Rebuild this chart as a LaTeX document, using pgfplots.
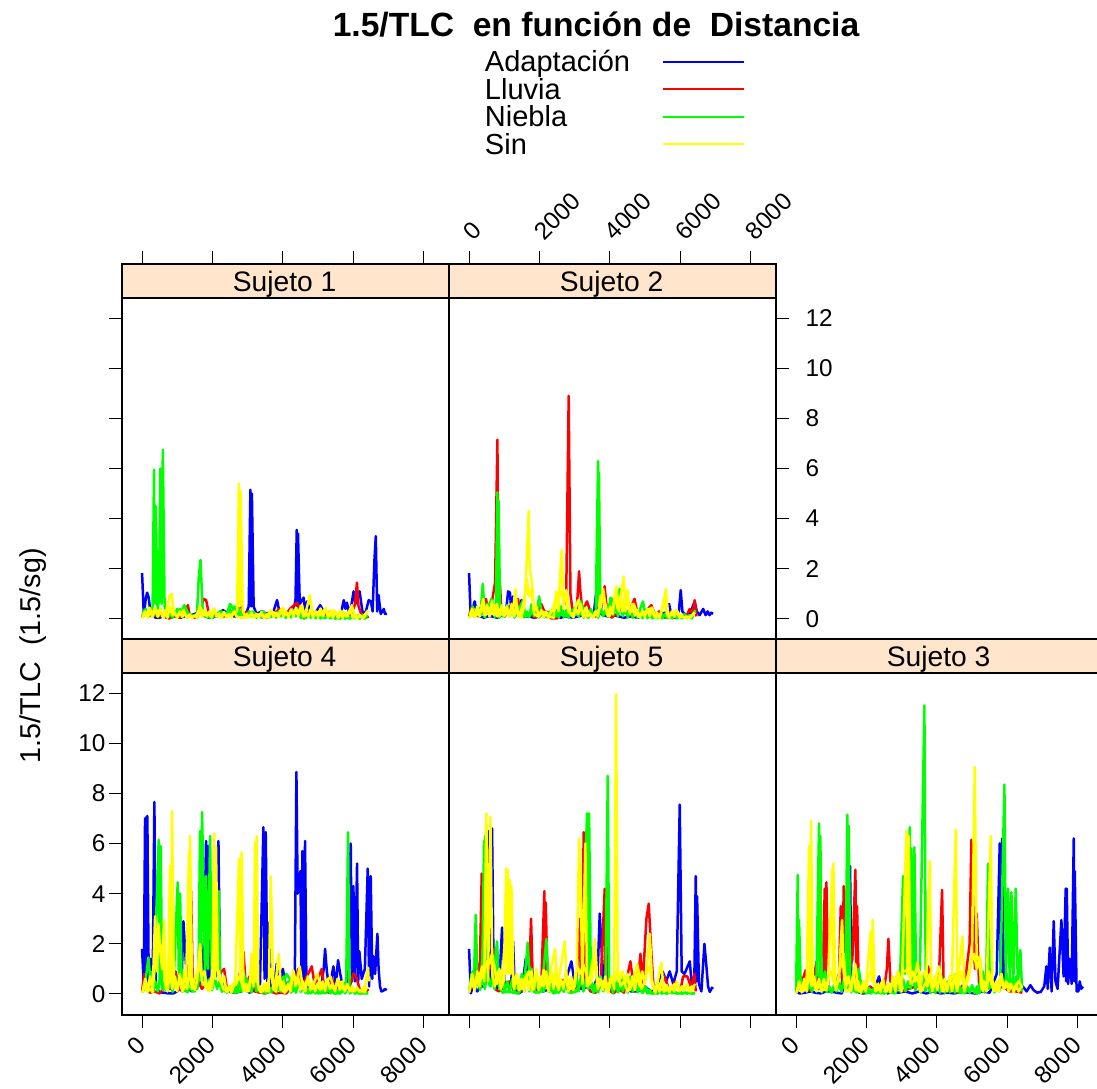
\documentclass[border=0pt]{standalone}
\usepackage{pgfplots}
\pgfplotsset{compat=1.18}
\usepackage{fontspec}
\setmainfont{Liberation Sans}
\definecolor{stripc}{HTML}{FFE5CC}
\definecolor{pureblue}{rgb}{0,0,1}
\definecolor{purered}{rgb}{1,0,0}
\definecolor{puregreen}{rgb}{0,1,0}
\definecolor{pureyellow}{rgb}{1,1,0}
\pgfplotsset{
  panel/.style={
    scale only axis, width=327pt, xmin=-570, xmax=8720,
    ymax=14.155,
    axis line style={line width=1.3pt}, clip=true,
    tick align=outside, major tick length=13pt,
    tick style={line width=1pt, black},
    xtick={0,2000,4000,6000,8000}, ytick={0,2,4,6,8,10,12},
    /pgf/number format/1000 sep={}, /pgf/number format/assume math mode=true,
    tick label style={font=\fontsize{24.3}{26}\selectfont},
    every axis plot/.append style={line width=2.5pt, line join=round, no markers},
    legend image code/.code={\draw[##1,line width=1.6pt] (0pt,3.5pt) -- (81pt,3.5pt);},
  },
  ser1/.style={color=pureblue}, ser2/.style={color=purered}, ser3/.style={color=puregreen}, ser4/.style={color=pureyellow},
  toplab/.style={xticklabel style={rotate=45,anchor=south west,inner sep=2pt,xshift=8pt,yshift=1pt}},
  botlab/.style={xticklabel style={rotate=45,anchor=north east,inner sep=2pt,xshift=-8pt,yshift=2pt}},
}
\newcommand{\strip}[1]{%
  \draw[fill=stripc,line width=1.3pt] (axis cs:-570,12.8) rectangle (axis cs:8720,14.155);
  \node[font=\fontsize{28.2}{30}\selectfont,inner sep=0pt] at (axis cs:4050,13.36) {#1};}
\begin{document}
\begin{tikzpicture}
\useasboundingbox (0pt,0pt) rectangle (1097pt,1088pt);
\clip (0pt,0pt) rectangle (1097pt,1088pt);
\node[font=\bfseries\fontsize{33.6}{36}\selectfont,inner sep=0pt] at (596pt,1063pt) {1.5/TLC\ \ en función de\ \ Distancia};
\node[font=\fontsize{28.7}{30}\selectfont,rotate=90,inner sep=0pt] at (33pt,432pt) {1.5/TLC\ \ (1.5/sg)};
% ---------- Sujeto 1
\begin{axis}[panel, at={(122pt,449pt)}, anchor=south west, height=375pt, ymin=-0.8,
  xtick pos=top, ytick pos=left, xticklabels={}, yticklabels={},
  legend plot pos=right, legend cell align=left,
  legend style={draw=none,fill=none,at={(1.11,1.5667)},anchor=north west,inner sep=0pt,outer sep=0pt,
    column sep=32pt,row sep=0pt,
    nodes={inner sep=0pt,text height=20.5pt,text depth=7pt,font=\fontsize{29}{30}\selectfont}},
]
\addplot[ser1] coordinates {(0,1.83)(50,.15)(100,.75)(142,1.05)(190,.85)(240,.2)(300,.1)(400,.05)(500,.05)(600,.1)(700,.05)(800,.05)(900,.1)(1000,.1)(1100,.05)(1200,.1)(1300,.1)(1400,.15)(1500,.2)(1600,.25)(1700,.2)(1800,.1)(1900,.05)(2000,.05)(2100,.15)(2300,.35)(2450,.2)(2600,.1)(2800,.1)(2950,.2)(3030,.5)(3078,5.15)(3100,.5)(3120,5.0)(3170,.5)(3250,.2)(3400,.3)(3550,.2)(3700,.15)(3835,.75)(3900,.3)(4000,.15)(4100,.2)(4200,.3)(4300,.25)(4360,.8)(4394,3.55)(4412,.5)(4430,3.4)(4480,.6)(4590,.85)(4640,.3)(4690,.7)(4800,.2)(4950,.3)(5060,.55)(5160,.3)(5300,.2)(5500,.15)(5650,.2)(5730,.75)(5780,.4)(5820,.65)(5900,.15)(6010,1.1)(6060,.6)(6180,1.1)(6260,.3)(6340,.2)(6440,.75)(6500,.7)(6550,.3)(6600,2.3)(6640,3.3)(6680,.3)(6720,.95)(6780,.2)(6870,.4)(6900,.2)(6960,.2)};
\addlegendentry{Adaptación}
\addplot[ser2] coordinates {(0,.05)(80,.35)(180,.1)(300,.2)(450,.1)(600,.15)(760,.02)(900,.1)(1050,.05)(1200,.15)(1300,.55)(1360,.1)(1500,.05)(1650,.3)(1750,.8)(1820,.75)(1900,.2)(2050,.1)(2200,.15)(2350,.1)(2500,.15)(2650,.2)(2800,.6)(2870,.2)(3000,.3)(3150,.15)(3300,.1)(3450,.05)(3600,.25)(3750,.2)(3900,.4)(4050,.1)(4200,.4)(4400,.65)(4480,.4)(4600,.02)(4750,.3)(4900,.15)(5050,.2)(5200,.1)(5350,.3)(5500,.1)(5650,.05)(5800,.15)(5950,.2)(6050,.6)(6105,1.45)(6150,.5)(6250,.1)(6350,.05)(6440,.1)};
\addlegendentry{Lluvia}
\addplot[ser3] coordinates {(0,.1)(60,.35)(150,.2)(250,.3)(300,.5)(340,5.95)(365,.6)(390,4.5)(440,.4)(480,.7)(520,6.0)(555,.6)(590,6.75)(640,.5)(720,.2)(850,.15)(950,.2)(1000,.4)(1080,.15)(1200,.55)(1320,.2)(1450,.1)(1560,.2)(1610,1.65)(1660,2.35)(1720,.4)(1800,.1)(1950,.05)(2100,.2)(2250,.3)(2400,.15)(2500,.6)(2600,.4)(2700,.5)(2850,.1)(3000,.15)(3150,.3)(3300,.1)(3450,.25)(3600,.05)(3750,.15)(3900,.3)(4050,.25)(4200,.1)(4400,.4)(4550,.05)(4700,.1)(4850,.2)(5000,.15)(5150,.05)(5300,.1)(5450,.05)(5600,.02)(5750,.1)(5900,.02)(6050,.1)(6200,.15)(6300,.02)(6400,.15)};
\addlegendentry{Niebla}
\addplot[ser3,forget plot] coordinates {(30,.1)(100,.4)(170,.08)(240,.35)(310,.1)(380,.3)(450,.08)(520,.4)(590,.1)(660,.3)(730,.06)(800,.22)(870,.05)(940,.3)(1010,.08)(1080,.4)(1150,.1)(1220,.3)(1290,.05)(1360,.2)(1430,.08)(1500,.15)(1570,.05)(1640,.35)(1710,.1)(1780,.3)(1850,.06)(1920,.2)(1990,.04)(2060,.25)(2130,.08)(2200,.3)(2270,.05)(2340,.2)(2410,.1)(2480,.45)(2550,.15)(2620,.5)(2690,.1)(2760,.3)(2830,.05)(2900,.2)(2970,.08)(3040,.3)(3110,.1)(3180,.25)(3250,.05)(3320,.18)(3390,.06)(3460,.3)(3530,.05)(3600,.2)(3670,.08)(3740,.25)(3810,.05)(3880,.3)(3950,.1)(4020,.22)(4090,.04)(4160,.2)(4230,.06)(4300,.35)(4370,.1)(4440,.3)(4510,.04)(4580,.15)(4650,.03)(4720,.2)(4790,.05)(4860,.18)(4930,.03)(5000,.12)(5070,.02)(5140,.15)(5210,.03)(5280,.12)(5350,.02)(5420,.1)(5490,.01)(5560,.12)(5630,.02)(5700,.15)(5770,.01)(5840,.1)(5910,.02)(5980,.12)(6050,.02)(6120,.1)(6190,.01)(6260,.12)(6330,.02)(6400,.15)};
\addplot[ser4] coordinates {(0,.02)(60,.25)(130,.1)(210,.45)(300,.15)(390,.4)(450,.1)(540,.35)(620,.05)(700,.4)(790,.95)(840,1.0)(900,.3)(1000,.1)(1100,.2)(1180,.35)(1280,.05)(1400,.1)(1550,.15)(1650,.5)(1740,.15)(1850,.25)(1960,.1)(2030,.4)(2100,.2)(2200,.1)(2320,.2)(2480,.1)(2600,.25)(2700,.3)(2750,5.4)(2775,.5)(2800,5.1)(2860,.3)(2950,.05)(3100,.15)(3250,.1)(3350,.2)(3500,.05)(3650,.3)(3750,.25)(3850,.1)(4000,.45)(4120,.15)(4250,.3)(4420,.2)(4540,.55)(4620,.1)(4770,.95)(4840,.2)(4950,.3)(5050,.15)(5200,.4)(5320,.1)(5450,.35)(5580,.05)(5700,.3)(5800,.1)(5900,.3)(5960,.55)(6050,.05)(6200,.1)(6300,.05)(6420,.35)};
\addlegendentry{Sin}
\addplot[ser4,forget plot] coordinates {(20,.12)(90,.3)(160,.05)(230,.28)(300,.08)(370,.45)(440,.1)(510,.4)(580,.08)(650,.3)(720,.05)(790,.5)(860,.15)(930,.25)(1000,.04)(1070,.3)(1140,.08)(1210,.2)(1280,.05)(1350,.18)(1420,.04)(1490,.12)(1560,.06)(1630,.3)(1700,.08)(1770,.35)(1840,.1)(1910,.3)(1980,.06)(2050,.42)(2120,.1)(2190,.22)(2260,.05)(2330,.28)(2400,.06)(2470,.2)(2540,.05)(2610,.3)(2680,.1)(2900,.05)(2970,.2)(3040,.06)(3110,.25)(3180,.04)(3250,.2)(3320,.06)(3390,.28)(3460,.04)(3530,.18)(3600,.05)(3670,.35)(3740,.08)(3810,.25)(3880,.06)(3950,.4)(4020,.1)(4090,.3)(4160,.06)(4230,.38)(4300,.1)(4370,.45)(4440,.12)(4510,.5)(4580,.1)(4650,.3)(4720,.08)(4790,.4)(4860,.06)(4930,.28)(5000,.08)(5070,.42)(5140,.1)(5210,.45)(5280,.08)(5350,.35)(5420,.05)(5490,.3)(5560,.06)(5630,.35)(5700,.05)(5770,.25)(5840,.1)(5910,.4)(5980,.06)(6050,.2)(6120,.04)(6190,.15)(6260,.03)(6330,.18)(6400,.3)};
\strip{Sujeto 1}
\end{axis}
% ---------- Sujeto 2
\begin{axis}[panel, at={(449pt,449pt)}, anchor=south west, height=375pt, ymin=-0.8,
  xtick pos=top, ytick pos=right, xticklabel pos=top, yticklabel pos=right, toplab,
  yticklabel style={xshift=13pt}]
\addplot[ser1] coordinates {(0,1.83)(40,.3)(100,.4)(160,.7)(220,.3)(320,.1)(420,.05)(520,.1)(650,.1)(800,.05)(930,.15)(1050,.3)(1110,1.1)(1160,1.05)(1210,.2)(1250,.9)(1300,.1)(1400,.3)(1487,.75)(1560,.1)(1700,.1)(1850,.05)(2000,.1)(2150,.3)(2300,.25)(2450,.15)(2600,.05)(2750,.1)(2950,.05)(3100,.1)(3250,.15)(3400,.1)(3550,.3)(3617,1.1)(3670,.3)(3800,.15)(3950,.1)(4100,.15)(4250,.1)(4400,.05)(4600,.1)(4800,.05)(5000,.15)(5200,.1)(5400,.2)(5600,.25)(5680,.6)(5740,.2)(5900,.2)(5960,.3)(6013,1.15)(6060,.3)(6200,.1)(6300,.3)(6410,.7)(6470,.3)(6550,.15)(6650,.4)(6720,.15)(6780,.3)(6830,.15)(6880,.25)(6930,.2)};
\addplot[ser2] coordinates {(0,.1)(60,.45)(160,.2)(280,.1)(400,.3)(480,.8)(560,.2)(650,.7)(740,1.45)(805,7.15)(835,.5)(870,1.55)(920,.3)(1020,.1)(1150,.5)(1280,.2)(1390,.8)(1460,.15)(1600,.1)(1750,.2)(1900,.05)(2050,.6)(2200,.1)(2350,.02)(2500,.02)(2650,.3)(2760,.9)(2830,8.9)(2880,1.0)(2950,.2)(3000,.4)(3060,.4)(3125,1.9)(3160,1.15)(3220,.3)(3350,.7)(3480,.15)(3600,.1)(3750,.4)(3850,1.3)(3920,.3)(4050,.05)(4200,.2)(4350,.5)(4500,.15)(4700,.8)(4800,.1)(4950,.2)(5180,.55)(5280,.15)(5400,.3)(5550,.05)(5700,.1)(5850,.05)(6000,.1)(6150,.05)(6270,.4)(6350,.2)(6410,.75)(6460,.1)};
\addplot[ser3] coordinates {(0,.05)(70,.35)(150,.2)(260,.15)(340,.5)(390,1.4)(440,.3)(540,.4)(630,.8)(700,.5)(760,.3)(805,5.05)(822,.5)(840,4.7)(880,.3)(980,.1)(1050,.35)(1180,.3)(1300,.15)(1420,.4)(1530,.75)(1590,.15)(1720,.1)(1850,.5)(1920,.2)(1990,.9)(2060,.2)(2180,.1)(2300,.3)(2450,.1)(2600,.2)(2750,.1)(2900,.3)(3050,.5)(3170,.7)(3300,.2)(3450,.15)(3600,.3)(3665,6.3)(3678,.5)(3690,5.85)(3730,.3)(3850,.2)(4000,.6)(4090,.8)(4180,.3)(4280,1.2)(4350,.2)(4500,.3)(4650,.1)(4800,.15)(4940,.7)(5020,.1)(5150,.15)(5300,.05)(5450,.2)(5600,.1)(5750,.05)(5900,.15)(6050,.1)(6200,.05)(6350,.15)(6430,.35)};
\addplot[ser3,forget plot] coordinates {(30,.1)(100,.5)(170,.08)(240,.4)(310,.1)(380,.3)(450,.06)(520,.6)(590,.1)(660,.5)(730,.08)(800,.4)(870,.05)(940,.3)(1010,.1)(1080,.55)(1150,.1)(1220,.4)(1290,.05)(1360,.55)(1430,.1)(1500,.4)(1570,.06)(1640,.3)(1710,.08)(1780,.6)(1850,.1)(1920,.4)(1990,.05)(2060,.3)(2130,.06)(2200,.25)(2270,.04)(2340,.2)(2410,.05)(2480,.35)(2550,.06)(2620,.5)(2690,.08)(2760,.35)(2830,.05)(2900,.25)(2970,.06)(3040,.35)(3110,.1)(3180,.3)(3250,.05)(3320,.2)(3390,.04)(3460,.4)(3530,.06)(3600,.25)(3670,.05)(3740,.45)(3810,.1)(3880,.4)(3950,.08)(4020,.85)(4090,.15)(4160,.6)(4230,.1)(4300,.7)(4370,.1)(4440,.5)(4510,.06)(4580,.4)(4650,.04)(4720,.3)(4790,.05)(4860,.25)(4930,.03)(5000,.2)(5070,.03)(5140,.18)(5210,.02)(5280,.25)(5350,.03)(5420,.15)(5490,.02)(5560,.2)(5630,.03)(5700,.12)(5770,.02)(5840,.15)(5910,.02)(5980,.15)(6050,.02)(6120,.2)(6190,.03)(6260,.15)(6330,.02)(6400,.3)};
\addplot[ser4] coordinates {(0,.05)(70,.15)(150,.1)(240,.2)(330,.35)(400,.8)(470,.15)(560,.45)(650,.2)(720,.55)(800,.1)(900,.2)(1020,.15)(1140,.3)(1240,.2)(1316,1.2)(1380,.15)(1480,.05)(1580,.6)(1630,2.1)(1695,4.3)(1720,2.0)(1790,1.45)(1850,.2)(1950,.1)(2100,.3)(2250,.1)(2400,.05)(2480,1.1)(2540,.3)(2575,1.45)(2630,2.75)(2680,.4)(2765,1.15)(2840,.3)(2950,.15)(3100,.75)(3200,.3)(3300,.1)(3400,.25)(3520,.05)(3650,.3)(3750,.5)(3810,1.2)(3880,.4)(3980,.1)(4090,.4)(4185,1.3)(4250,.3)(4395,1.7)(4440,.3)(4500,1.15)(4570,.25)(4680,.6)(4800,.1)(4950,.2)(5060,.35)(5200,.45)(5300,.05)(5420,.1)(5520,.5)(5590,1.2)(5660,.1)(5780,.2)(5900,.35)(6000,.1)(6150,.05)(6300,.1)(6420,.25)};
\addplot[ser4,forget plot] coordinates {(20,.15)(90,.4)(160,.08)(230,.5)(300,.1)(370,.6)(440,.15)(510,.55)(580,.1)(650,.7)(720,.15)(790,.6)(860,.1)(930,.55)(1000,.12)(1070,.5)(1140,.08)(1210,.6)(1280,.1)(1350,.55)(1420,.08)(1490,.4)(1560,.7)(1640,1.6)(1700,.9)(1770,1.2)(1840,.3)(1910,.5)(1980,.08)(2050,.35)(2120,.06)(2190,.3)(2260,.05)(2330,.3)(2400,.5)(2470,.9)(2540,.7)(2610,1.1)(2680,.9)(2750,1.0)(2820,.3)(2890,.2)(2960,.06)(3030,.4)(3100,.2)(3170,.6)(3240,.08)(3310,.45)(3380,.1)(3450,.2)(3520,.06)(3590,.3)(3660,.1)(3730,.9)(3800,1.0)(3870,.6)(3940,.12)(4010,.5)(4080,.2)(4150,1.0)(4220,.4)(4290,.9)(4360,.3)(4430,1.0)(4500,.8)(4570,.2)(4640,.6)(4710,.15)(4780,.35)(4850,.06)(4920,.3)(4990,.08)(5060,.4)(5130,.1)(5200,.35)(5270,.08)(5340,.25)(5410,.05)(5480,.4)(5550,.9)(5620,.2)(5690,.06)(5760,.3)(5830,.1)(5900,.3)(5970,.08)(6040,.15)(6110,.04)(6180,.1)(6250,.04)(6320,.12)(6400,.25)};
\strip{Sujeto 2}
\end{axis}
% ---------- Sujeto 4
\begin{axis}[panel, at={(122pt,73pt)}, anchor=south west, height=376pt, ymin=-0.84,
  xtick pos=bottom, ytick pos=left, botlab]
\addplot[ser1] coordinates {(0,1.8)(50,.3)(85,7.0)(102,.5)(120,7.05)(135,.5)(150,7.1)(190,.4)(246,1.4)(300,.2)(350,7.65)(395,.3)(500,.05)(620,.05)(760,.02)(880,.02)(1000,.1)(1120,.3)(1175,2.9)(1240,1.35)(1300,.2)(1430,.1)(1560,.3)(1700,.5)(1770,2.5)(1818,6.1)(1846,.6)(1875,5.9)(1920,.6)(2000,1.0)(2100,.7)(2170,6.1)(2215,.7)(2330,.2)(2500,.1)(2650,.05)(2800,.1)(2950,.2)(3050,.05)(3200,.15)(3350,.4)(3447,6.65)(3480,.6)(3513,6.45)(3560,.5)(3608,2.85)(3650,.3)(3760,.4)(3826,1.2)(3900,.4)(4000,1.0)(4100,.2)(4250,.1)(4340,.6)(4385,8.85)(4420,4.0)(4460,4.3)(4498,4.9)(4530,.6)(4555,5.7)(4600,.5)(4630,6.1)(4670,.3)(4800,.2)(4950,.1)(5100,.4)(5160,1.0)(5200,1.8)(5250,.9)(5320,.2)(5436,1.1)(5500,.3)(5568,1.35)(5630,.8)(5700,.3)(5830,.5)(5928,6.0)(5960,.5)(6004,4.3)(6050,.5)(6108,5.2)(6140,.5)(6174,1.7)(6240,.6)(6330,1.0)(6411,5.0)(6450,.3)(6496,4.7)(6540,.6)(6572,1.5)(6620,.8)(6686,2.4)(6720,1.0)(6760,.3)(6800,.1)(6850,.12)(6900,.2)(6950,.15)};
\addplot[ser2] coordinates {(0,.1)(60,.8)(130,.2)(230,.05)(360,.1)(500,.02)(650,.3)(800,.2)(950,.9)(1050,.2)(1150,.1)(1250,.4)(1325,3.0)(1392,4.1)(1440,.5)(1560,.6)(1700,.2)(1850,.5)(2000,.4)(2120,3.1)(2200,.8)(2330,1.0)(2400,.3)(2550,.05)(2700,.15)(2880,1.7)(2950,.3)(3050,.7)(3200,.1)(3350,.05)(3500,.02)(3650,.1)(3800,.02)(3950,.05)(4100,.02)(4300,.4)(4440,1.0)(4520,.3)(4650,.6)(4820,1.1)(4900,.4)(5000,.6)(5104,1.0)(5180,.2)(5300,.05)(5400,.6)(5500,.1)(5650,.5)(5780,.1)(5900,.3)(6004,.8)(6080,.7)(6200,.1)(6350,.05)(6430,.2)};
\addplot[ser3] coordinates {(0,.05)(80,.3)(180,1.45)(250,.3)(330,.1)(473,6.15)(500,.5)(530,5.9)(570,.4)(680,.15)(800,.3)(900,.6)(1013,4.45)(1046,.5)(1080,4.0)(1130,.3)(1230,.1)(1350,.2)(1500,.1)(1600,.5)(1648,6.5)(1676,.8)(1705,7.25)(1760,3.0)(1790,.6)(1818,4.7)(1875,1.0)(1932,6.3)(1980,.8)(2060,.5)(2120,3.0)(2178,4.1)(2220,.6)(2350,.1)(2500,.3)(2630,.05)(2760,.1)(2850,.25)(2960,.6)(3060,.2)(3150,1.5)(3250,.3)(3350,.1)(3500,.05)(3650,.1)(3800,.3)(3950,.1)(4100,.8)(4200,.6)(4280,.1)(4400,.3)(4550,.5)(4700,.02)(4850,.1)(5000,.02)(5150,.05)(5300,.3)(5450,.02)(5600,.02)(5700,.1)(5800,.5)(5852,6.45)(5890,.3)(6000,.1)(6150,.02)(6300,.02)(6430,.02)};
\addplot[ser3,forget plot] coordinates {(30,.1)(100,.6)(170,.1)(240,.9)(310,.15)(380,.5)(450,.1)(520,.7)(590,.15)(660,.6)(730,.1)(800,.5)(870,.08)(940,.7)(1010,.2)(1080,.6)(1150,.1)(1220,.4)(1290,.06)(1360,.8)(1430,.1)(1500,.5)(1570,.2)(1640,1.1)(1710,.4)(1780,.9)(1850,.3)(1920,.6)(1990,.15)(2060,.7)(2130,.2)(2200,.5)(2270,.08)(2340,.35)(2410,.05)(2480,.25)(2550,.04)(2620,.3)(2690,.05)(2760,.5)(2830,.08)(2900,.8)(2970,.1)(3040,.5)(3110,.06)(3180,.6)(3250,.1)(3320,.3)(3390,.05)(3460,.35)(3530,.04)(3600,.3)(3670,.06)(3740,.4)(3810,.06)(3880,.5)(3950,.1)(4020,.7)(4090,.1)(4160,.5)(4230,.05)(4300,.4)(4370,.05)(4440,.5)(4510,.08)(4580,.3)(4650,.03)(4720,.2)(4790,.02)(4860,.15)(4930,.02)(5000,.2)(5070,.03)(5140,.25)(5210,.02)(5280,.2)(5350,.02)(5420,.15)(5490,.01)(5560,.15)(5630,.02)(5700,.25)(5770,.02)(5840,.3)(5910,.02)(5980,.15)(6050,.01)(6120,.12)(6190,.01)(6260,.1)(6330,.01)(6400,.1)};
\addplot[ser4] coordinates {(0,.05)(70,.3)(150,.1)(240,.2)(300,.05)(370,3.1)(420,.9)(464,2.8)(520,1.7)(570,1.0)(625,2.95)(680,.2)(740,.6)(795,5.1)(823,.6)(852,7.3)(900,.5)(980,.2)(1060,.55)(1150,.1)(1250,.4)(1335,5.7)(1350,.6)(1364,6.3)(1420,.4)(1500,.15)(1570,.6)(1648,2.0)(1700,.5)(1800,.3)(1900,.1)(2000,.9)(2055,6.4)(2078,.6)(2100,5.9)(2150,1.0)(2220,.7)(2300,.2)(2430,.1)(2530,.3)(2650,.5)(2755,5.4)(2792,.6)(2830,5.65)(2880,.4)(2980,.1)(3060,.45)(3115,1.6)(3170,.3)(3210,6.05)(3233,.5)(3257,6.3)(3300,.3)(3420,.1)(3500,.4)(3600,.1)(3655,4.7)(3683,3.2)(3730,.2)(3800,.5)(3880,1.6)(3950,.2)(4050,.05)(4200,.3)(4300,.9)(4380,.4)(4480,1.1)(4570,.2)(4700,.6)(4830,.2)(4980,.8)(5100,.2)(5250,.5)(5350,.7)(5450,.2)(5600,.5)(5720,.2)(5830,.3)(5960,.1)(6100,.2)(6250,.1)(6350,.4)(6420,1.05)(6440,.5)};
\addplot[ser4,forget plot] coordinates {(20,.15)(90,.6)(160,.1)(230,.7)(300,.15)(370,1.3)(440,1.6)(510,2.0)(580,1.6)(650,.5)(720,.1)(790,.9)(860,.2)(930,.7)(1000,.1)(1070,.8)(1140,.15)(1210,.9)(1280,.2)(1350,1.0)(1420,.2)(1490,.6)(1560,.9)(1630,1.1)(1700,.7)(1770,.9)(1840,.2)(1910,.5)(1980,.2)(2050,1.0)(2120,1.2)(2190,.6)(2260,.4)(2330,.7)(2400,.08)(2470,.3)(2540,.06)(2610,.35)(2680,.4)(2750,.7)(2820,.5)(2890,.1)(2960,.4)(3030,.1)(3100,.6)(3170,.7)(3240,.9)(3310,.2)(3380,.06)(3450,.4)(3520,.1)(3590,.5)(3660,1.0)(3730,.2)(3800,.1)(3870,.7)(3940,.15)(4010,.5)(4080,.1)(4150,.4)(4220,.1)(4290,.95)(4360,.3)(4430,.7)(4500,.15)(4570,.5)(4640,.1)(4710,.7)(4780,.15)(4850,.5)(4920,.1)(4990,.4)(5060,.15)(5130,.5)(5200,.12)(5270,.6)(5340,.2)(5410,.4)(5480,.1)(5550,.6)(5620,.15)(5690,.5)(5760,.1)(5830,.4)(5900,.1)(5970,.3)(6040,.1)(6110,.25)(6180,.08)(6250,.2)(6320,.06)(6400,.3)};
\strip{Sujeto 4}
\end{axis}
% ---------- Sujeto 5
\begin{axis}[panel, at={(449pt,73pt)}, anchor=south west, height=376pt, ymin=-0.84,
  xtick pos=bottom, xticklabels={}, ytick=\empty]
\addplot[ser1] coordinates {(0,1.8)(50,.02)(120,.4)(230,.1)(340,.3)(450,.3)(500,3.0)(540,6.5)(590,.4)(653,6.6)(700,.5)(800,.2)(880,1.0)(937,2.65)(1000,.5)(1100,.3)(1200,.5)(1250,2.1)(1300,.2)(1400,.02)(1500,.1)(1610,1.4)(1700,.3)(1800,.5)(1950,.2)(2100,.1)(2300,.2)(2500,.3)(2700,.4)(2800,.8)(2907,1.3)(2980,.6)(3080,.3)(3200,.2)(3400,.3)(3550,.3)(3650,.7)(3712,3.2)(3760,1.9)(3820,.5)(3900,.3)(4050,.1)(4250,.4)(4400,.3)(4600,.1)(4800,.1)(5000,.3)(5200,.05)(5350,.4)(5500,.9)(5600,.5)(5700,.9)(5800,.4)(5900,.9)(5985,7.55)(6040,.9)(6120,.8)(6270,1.3)(6330,.3)(6400,.6)(6440,4.7)(6459,.5)(6478,3.9)(6530,.4)(6600,.1)(6686,2.0)(6743,1.1)(6790,.3)(6840,.08)(6900,.25)(6930,.2)};
\addplot[ser2] coordinates {(0,.05)(100,.4)(240,1.2)(300,.6)(360,4.8)(420,.5)(540,.8)(680,1.8)(730,.2)(850,.1)(1000,.3)(1150,.5)(1300,.05)(1450,.1)(1600,.5)(1700,.4)(1761,3.0)(1810,.5)(1950,.1)(2060,.7)(2140,4.1)(2159,.5)(2178,3.65)(2230,.4)(2400,.1)(2600,.5)(2750,.6)(2900,.05)(3050,.3)(3125,3.0)(3190,.3)(3258,6.45)(3300,.5)(3450,.1)(3600,.05)(3740,.5)(3854,4.2)(3872,.5)(3890,3.5)(3950,.2)(4100,.02)(4250,.2)(4400,.05)(4583,1.3)(4650,.6)(4780,.3)(4868,1.6)(4930,.3)(5038,3.0)(5104,3.6)(5180,1.6)(5240,.3)(5380,.05)(5550,.7)(5700,.1)(5860,.5)(6000,.1)(6080,.7)(6200,.7)(6300,.3)(6400,.8)(6440,.1)};
\addplot[ser3] coordinates {(0,.1)(70,.8)(130,.3)(190,3.15)(240,.4)(310,.3)(380,1.5)(426,6.1)(440,.6)(455,6.3)(510,.6)(620,.3)(720,1.1)(795,2.1)(850,.3)(950,.05)(1100,.1)(1250,.05)(1400,.02)(1500,.8)(1560,.3)(1667,2.05)(1730,.3)(1880,.05)(2060,.1)(2197,2.2)(2260,.3)(2400,.02)(2550,.1)(2700,.3)(2900,.05)(3050,.1)(3200,.6)(3352,7.2)(3381,.5)(3410,7.2)(3460,.5)(3600,.1)(3750,.3)(3880,.5)(3940,8.7)(3980,.6)(4100,.3)(4250,.1)(4400,.7)(4520,.2)(4650,.5)(4780,.9)(4880,.1)(5000,.3)(5150,.02)(5300,.02)(5450,.1)(5600,.02)(5750,.1)(5900,.02)(6050,.02)(6200,.05)(6350,.02)(6420,.02)};
\addplot[ser3,forget plot] coordinates {(30,.2)(100,.9)(170,.2)(240,.8)(310,.15)(380,.7)(450,.2)(520,.9)(590,.3)(660,.7)(730,.2)(800,1.2)(870,.2)(940,.8)(1010,.1)(1080,.5)(1150,.06)(1220,.6)(1290,.05)(1360,.5)(1430,.06)(1500,.7)(1570,.1)(1640,.9)(1710,.1)(1780,1.0)(1850,.1)(1920,.5)(1990,.04)(2060,.6)(2130,.1)(2200,.9)(2270,.08)(2340,.4)(2410,.03)(2480,.3)(2550,.04)(2620,.5)(2690,.08)(2760,.6)(2830,.05)(2900,.4)(2970,.06)(3040,.8)(3110,.1)(3180,.7)(3250,.1)(3320,.6)(3390,.2)(3460,.5)(3530,.05)(3600,.4)(3670,.06)(3740,.7)(3810,.1)(3880,.6)(3950,.1)(4020,.5)(4090,.04)(4160,.7)(4230,.06)(4300,.6)(4370,.1)(4440,.5)(4510,.05)(4580,.7)(4650,.1)(4720,.8)(4790,.06)(4860,.3)(4930,.03)(5000,.2)(5070,.02)(5140,.15)(5210,.01)(5280,.1)(5350,.01)(5420,.12)(5490,.01)(5560,.15)(5630,.01)(5700,.12)(5770,.02)(5840,.1)(5910,.01)(5980,.08)(6050,.01)(6120,.06)(6190,.01)(6260,.05)(6330,.01)(6400,.04)};
\addplot[ser4] coordinates {(0,.05)(60,.5)(150,.2)(260,.6)(360,1.0)(430,.5)(492,7.2)(540,.5)(606,7.05)(660,.8)(730,.3)(820,.9)(900,.2)(980,.5)(1060,5.0)(1080,.8)(1100,4.95)(1128,.8)(1155,4.55)(1180,.8)(1203,4.3)(1260,.3)(1360,.7)(1480,.2)(1580,.6)(1700,.9)(1800,.15)(1930,.8)(2030,.3)(2120,.95)(2230,.2)(2340,1.1)(2443,1.8)(2500,.3)(2600,1.0)(2718,2.1)(2780,.4)(2900,.2)(3000,.3)(3060,1.0)(3125,6.2)(3163,5.0)(3220,.4)(3305,6.0)(3350,.3)(3480,.5)(3580,2.2)(3650,.3)(3800,.5)(3950,.05)(4060,.7)(4120,.2)(4176,11.95)(4220,.9)(4300,.3)(4400,.5)(4500,.1)(4650,.4)(4780,1.2)(4900,.2)(5020,.6)(5133,2.4)(5200,.5)(5300,.05)(5464,1.25)(5530,.1)(5680,.2)(5850,.4)(6000,.15)(6150,.3)(6300,.1)(6420,.4)};
\addplot[ser4,forget plot] coordinates {(20,.2)(90,.8)(160,.15)(230,.9)(300,.3)(370,1.1)(440,.9)(510,1.3)(580,1.2)(650,1.6)(720,1.1)(790,.4)(860,1.0)(930,.3)(1000,1.8)(1070,2.6)(1140,2.2)(1210,1.6)(1280,.2)(1350,.8)(1420,.15)(1490,.6)(1560,.1)(1630,.7)(1700,.15)(1770,.9)(1840,.2)(1910,1.0)(1980,.15)(2050,.7)(2120,.3)(2190,.9)(2260,.1)(2330,1.0)(2400,.2)(2470,1.1)(2540,.15)(2610,.6)(2680,.2)(2750,.9)(2820,.1)(2890,.7)(2960,.15)(3030,.9)(3100,1.0)(3170,.8)(3240,1.2)(3310,.9)(3380,.4)(3450,.8)(3520,1.4)(3590,1.0)(3660,.2)(3730,.6)(3800,.15)(3870,.7)(3940,.1)(4010,.6)(4080,.7)(4150,.5)(4220,1.0)(4290,.6)(4360,.9)(4430,.4)(4500,.8)(4570,.15)(4640,.7)(4710,.15)(4780,.8)(4850,.3)(4920,.9)(4990,.4)(5060,.9)(5130,1.1)(5200,.4)(5270,.1)(5340,.4)(5410,.1)(5480,.6)(5550,.1)(5620,.35)(5690,.06)(5760,.3)(5830,.1)(5900,.5)(5970,.1)(6040,.3)(6110,.15)(6180,.4)(6250,.1)(6320,.3)(6400,.2)};
\strip{Sujeto 5}
\end{axis}
% ---------- Sujeto 3
\begin{axis}[panel, at={(776pt,73pt)}, anchor=south west, height=376pt, ymin=-0.84,
  xtick pos=bottom, ytick=\empty, botlab]
\addplot[ser1] coordinates {(0,.1)(100,.02)(250,.05)(400,.1)(550,.05)(700,.02)(850,.1)(1000,.1)(1150,.05)(1300,.02)(1480,1.0)(1534,5.1)(1570,.4)(1700,.1)(1900,.02)(2050,.05)(2200,.1)(2358,.7)(2420,.2)(2500,.5)(2600,.02)(2750,.1)(2900,.05)(3100,.1)(3300,.02)(3500,.1)(3700,.02)(3900,.1)(4100,.02)(4300,.05)(4500,.02)(4700,.1)(4900,.05)(5100,.02)(5300,.1)(5500,.05)(5700,.8)(5786,6.0)(5819,.5)(5852,6.2)(5900,.5)(6000,.3)(6150,.2)(6300,.3)(6440,.3)(6550,.1)(6657,.35)(6750,.15)(6850,.05)(6950,.08)(7050,.3)(7112,1.1)(7150,.2)(7207,1.85)(7260,.1)(7320,2.9)(7370,.5)(7430,.2)(7538,2.95)(7600,.7)(7660,4.2)(7675,.5)(7690,4.2)(7730,.4)(7775,1.4)(7830,.4)(7889,6.2)(7903,.5)(7917,4.9)(7970,.1)(8020,.1)(8060,.5)(8100,.2)(8150,.3)};
\addplot[ser2] coordinates {(0,.05)(120,.3)(275,.95)(330,.2)(450,.1)(580,1.3)(630,.2)(750,.3)(815,4.2)(838,.5)(862,4.45)(910,.3)(1030,.1)(1150,.5)(1220,.8)(1270,3.5)(1310,.2)(1354,4.3)(1400,.4)(1600,1.4)(1686,4.95)(1710,.5)(1733,3.5)(1780,.3)(1900,.05)(2100,.3)(2280,.1)(2400,.4)(2500,.2)(2580,1.0)(2623,2.2)(2680,.5)(2800,.4)(3000,.1)(3200,.2)(3400,.3)(3650,.3)(3750,1.1)(3900,.1)(4050,.3)(4148,4.15)(4190,.5)(4300,.1)(4450,.5)(4600,.05)(4800,.5)(4930,2.0)(4981,6.15)(5028,3.8)(5080,1.0)(5133,3.2)(5200,.3)(5350,.1)(5500,.3)(5700,.2)(5900,.3)(6050,.1)(6250,.1)(6430,.05)};
\addplot[ser3] coordinates {(0,.05)(47,4.75)(66,.5)(85,2.95)(130,.5)(220,.3)(330,.2)(470,.5)(580,.7)(653,6.8)(672,.5)(690,6.3)(730,.3)(820,.9)(880,.2)(1020,.1)(1150,.6)(1260,.2)(1400,.3)(1458,7.15)(1477,.5)(1496,6.7)(1540,.3)(1660,.1)(1780,1.0)(1880,.1)(2040,.05)(2200,.1)(2350,.05)(2500,.02)(2650,.1)(2800,.02)(2950,.4)(3040,4.7)(3100,.8)(3230,6.65)(3253,.5)(3277,5.8)(3320,.6)(3362,5.85)(3410,.5)(3520,1.0)(3646,11.5)(3680,1.0)(3800,.2)(3950,.1)(4100,.8)(4250,.1)(4400,.7)(4550,.8)(4680,.05)(4850,.1)(5000,.2)(5150,.02)(5300,.9)(5400,.3)(5455,5.2)(5500,.5)(5650,.1)(5800,.5)(5919,8.35)(5960,.6)(6023,4.2)(6070,.5)(6118,4.05)(6170,.4)(6240,4.2)(6300,.4)(6373,1.75)(6420,.1)};
\addplot[ser3,forget plot] coordinates {(30,.1)(100,.5)(170,.08)(240,.4)(310,.1)(380,.45)(450,.08)(520,.6)(590,.1)(660,.5)(730,.06)(800,.4)(870,.08)(940,.3)(1010,.04)(1080,.35)(1150,.1)(1220,.5)(1290,.08)(1360,.6)(1430,.1)(1500,.5)(1570,.06)(1640,.5)(1710,.05)(1780,.3)(1850,.03)(1920,.2)(1990,.03)(2060,.25)(2130,.02)(2200,.2)(2270,.02)(2340,.15)(2410,.02)(2480,.3)(2550,.04)(2620,.2)(2690,.03)(2760,.3)(2830,.04)(2900,.4)(2970,.08)(3040,.6)(3110,.1)(3180,.5)(3250,.2)(3320,.8)(3390,.15)(3460,.6)(3530,.06)(3600,.8)(3670,.1)(3740,.5)(3810,.04)(3880,.3)(3950,.03)(4020,.4)(4090,.05)(4160,.5)(4230,.04)(4300,.5)(4370,.06)(4440,.6)(4510,.04)(4580,.4)(4650,.03)(4720,.25)(4790,.02)(4860,.3)(4930,.04)(5000,.35)(5070,.04)(5140,.3)(5210,.03)(5280,.4)(5350,.06)(5420,.9)(5490,.2)(5560,.7)(5630,.06)(5700,.4)(5770,.1)(5840,.8)(5910,.2)(5980,.8)(6050,.1)(6120,.6)(6190,.1)(6260,.7)(6330,.1)(6400,.4)};
\addplot[ser4] coordinates {(0,.03)(100,.3)(200,.1)(300,.5)(370,5.9)(398,.6)(426,6.9)(470,.5)(570,.2)(680,.3)(790,.15)(900,.4)(1032,5.0)(1046,.5)(1060,5.2)(1110,.4)(1210,.5)(1307,2.95)(1350,.9)(1420,.1)(1550,.2)(1680,1.2)(1780,.1)(1900,.2)(2000,.6)(2121,2.5)(2150,.5)(2178,2.95)(2230,.5)(2320,.15)(2450,.5)(2560,.1)(2680,.3)(2790,.4)(2900,.9)(3000,.1)(3135,6.5)(3167,.8)(3200,6.3)(3250,.4)(3340,.5)(3450,1.25)(3560,.1)(3700,.5)(3797,5.3)(3840,.3)(3960,.6)(4060,1.1)(4180,.1)(4300,.3)(4430,.7)(4536,6.55)(4580,.3)(4725,2.3)(4790,.2)(4900,.6)(5000,1.6)(5076,9.05)(5130,1.4)(5230,1.5)(5300,.1)(5420,.5)(5530,6.3)(5580,.5)(5700,.1)(5800,.7)(5900,.2)(6050,.4)(6180,.2)(6320,.5)(6430,.25)};
\addplot[ser4,forget plot] coordinates {(20,.1)(90,.5)(160,.06)(230,.6)(300,.1)(370,.9)(440,.3)(510,.7)(580,.1)(650,.6)(720,.1)(790,.6)(860,.15)(930,.7)(1000,.9)(1070,.5)(1140,.15)(1210,.7)(1280,1.2)(1350,1.6)(1420,.3)(1490,.7)(1560,.1)(1630,.9)(1700,.15)(1770,.5)(1840,.05)(1910,.5)(1980,.1)(2050,.7)(2120,.9)(2190,.6)(2260,.1)(2330,.4)(2400,.06)(2470,.6)(2540,.08)(2610,.4)(2680,.06)(2750,.7)(2820,.1)(2890,.8)(2960,.15)(3030,.9)(3100,.9)(3170,1.0)(3240,.6)(3310,.9)(3380,.5)(3450,.7)(3520,.1)(3590,.8)(3660,.9)(3730,.3)(3800,.8)(3870,.1)(3940,.7)(4010,.15)(4080,.8)(4150,.1)(4220,.6)(4290,.1)(4360,.7)(4430,.1)(4500,.8)(4570,.1)(4640,.5)(4710,.9)(4780,.1)(4850,.6)(4920,.9)(4990,1.3)(5060,1.6)(5130,1.0)(5200,1.4)(5270,.2)(5340,.5)(5410,.1)(5480,.9)(5550,.4)(5620,.1)(5690,.5)(5760,.1)(5830,.8)(5900,.2)(5970,.5)(6040,.1)(6110,.4)(6180,.06)(6250,.4)(6320,.1)(6400,.3)};
\strip{Sujeto 3}
\end{axis}
\end{tikzpicture}
\end{document}
